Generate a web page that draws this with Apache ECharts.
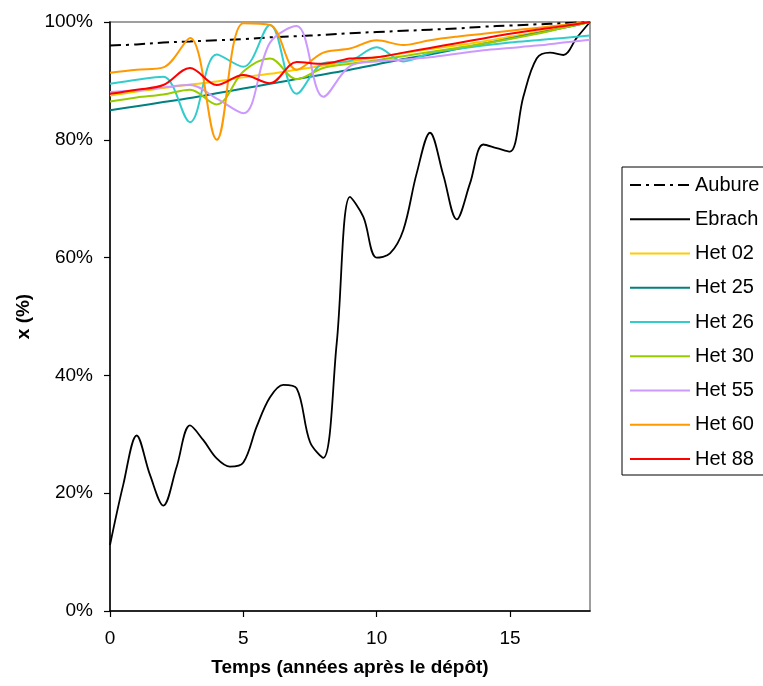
<!DOCTYPE html>
<html><head><meta charset="utf-8">
<script src="https://cdn.jsdelivr.net/npm/echarts@6/dist/echarts.min.js"></script>
<style>html,body{margin:0;padding:0;background:#fff}#c{width:763px;height:686px}</style>
</head><body><div id="c"></div>
<script>
// ---- data ----
const years = [0,1,2,3,4,5,6,7,8,9,10,11,12,13,14,15,16,17,18];
const aubure = [96.0,96.2,96.5,96.7,96.9,97.1,97.4,97.6,97.8,98.1,98.3,98.5,98.7,98.9,99.2,99.4,99.6,99.8,100];
const ebrachT = [0,0.5,1,1.5,2,2.5,3,3.5,4,4.5,5,5.5,6,6.5,7,7.5,8,8.5,9,9.5,10,10.5,11,11.5,12,12.5,13,13.5,14,14.5,15,15.5,16,16.5,17,17.5,18];
const ebrach = [11.2,21.5,29.8,23.1,17.9,24.5,31.5,29.0,25.9,24.5,25.2,31.3,36.3,38.4,37.8,28.7,26.0,45.4,70.3,66.9,60.0,60.7,64.7,74.3,81.2,74.0,66.5,72.6,79.2,78.6,78.0,87.3,93.8,94.8,94.4,97.3,100];
const het02 = [87.5,88.2,88.8,89.4,89.9,90.6,91.2,91.9,92.6,93.3,94.0,94.7,95.4,96.0,96.7,97.5,98.3,99.1,100];
const het25 = [85.0,85.7,86.4,87.1,87.9,88.7,89.5,90.3,91.1,91.9,92.8,93.7,94.5,95.4,96.3,97.2,98.1,99.0,100];
const het26 = [89.5,90.2,90.7,83.0,94.5,92.4,99.5,87.8,93.0,93.4,95.7,93.3,94.7,95.4,96.0,96.5,96.9,97.3,97.7];
const het30 = [86.5,87.2,87.7,88.5,86.0,91.6,93.8,90.3,92.2,92.9,93.5,94.2,94.9,95.6,96.3,97.1,98.0,99.0,100];
const het55 = [88.1,88.4,88.9,89.3,87.0,84.5,96.5,99.3,87.3,92.5,93.3,93.6,94.0,94.6,95.2,95.6,96.0,96.5,97.0];
const het60 = [91.4,91.9,92.3,97.3,80.0,99.8,99.5,91.9,94.8,95.5,96.9,96.1,96.9,97.5,98.0,98.5,99.0,99.5,100];
const het88 = [87.8,88.5,89.3,92.2,89.3,91.0,89.6,93.2,92.9,93.8,94.0,94.8,95.6,96.4,97.2,98.0,98.7,99.3,100];
const xTicks = [0,5,10,15];
const yTicks = [0,20,40,60,80,100];

const names = ['Aubure','Ebrach','Het 02','Het 25','Het 26','Het 30','Het 55','Het 60','Het 88'];
const colors = ['#000000','#000000','#FFCC00','#008080','#33CCCC','#99CC00','#CC99FF','#FF9900','#FF0000'];
const pair = (xs, ys) => ys.map((v, i) => [xs[i], v]);
const seriesData = [
  pair(years, aubure), pair(ebrachT, ebrach), pair(years, het02), pair(years, het25),
  pair(years, het26), pair(years, het30), pair(years, het55), pair(years, het60), pair(years, het88)
];

const FONT = 'Liberation Sans, Arial, sans-serif';
const chart = echarts.init(document.getElementById('c'), null, {renderer: 'canvas'});
chart.setOption({
  animation: false,
  backgroundColor: '#ffffff',
  grid: {left: 110, right: 173, top: 22, bottom: 75, show: true, borderColor: '#808080', borderWidth: 1.5, backgroundColor: 'transparent'},
  legend: {
    orient: 'vertical', left: 622, top: 167,
    padding: [8, 16, 6, 7],
    itemWidth: 60, itemHeight: 20, itemGap: 14.25,
    borderColor: '#000', borderWidth: 1,
    itemStyle: {opacity: 0},
    textStyle: {fontFamily: FONT, fontSize: 20, color: '#000', lineHeight: 20},
    data: names
  },
  xAxis: {
    type: 'value', min: 0, max: 18, interval: 5,
    name: 'Temps (années après le dépôt)', nameLocation: 'middle', nameGap: 47,
    nameTextStyle: {fontFamily: FONT, fontSize: 19, fontWeight: 'bold', color: '#000'},
    axisLine: {show: true, onZero: false, lineStyle: {color: '#000', width: 1.5}},
    axisTick: {show: true, inside: false, length: 6, lineStyle: {color: '#000', width: 1.2}, customValues: xTicks},
    axisLabel: {fontFamily: FONT, fontSize: 19, color: '#000', margin: 18, customValues: xTicks},
    splitLine: {show: false}
  },
  yAxis: {
    type: 'value', min: 0, max: 100, interval: 20,
    name: 'x (%)', nameLocation: 'middle', nameGap: 77, nameRotate: 90,
    nameTextStyle: {fontFamily: FONT, fontSize: 19, fontWeight: 'bold', color: '#000'},
    axisLine: {show: true, onZero: false, lineStyle: {color: '#000', width: 1.5}},
    axisTick: {show: true, inside: false, length: 6, lineStyle: {color: '#000', width: 1.2}, customValues: yTicks},
    axisLabel: {fontFamily: FONT, fontSize: 19, color: '#000', margin: 17, formatter: '{value}%', customValues: yTicks},
    splitLine: {show: false}
  },
  series: names.map((n, i) => ({
    name: n, type: 'line', data: seriesData[i],
    smooth: 0.35, symbol: 'none', showSymbol: false, clip: true,
    z: i + 2,
    color: colors[i],
    itemStyle: {color: colors[i]},
    lineStyle: {color: colors[i], width: i === 1 ? 1.8 : 2, type: i === 0 ? [11, 5, 3, 5] : 'solid'}
  }))
});
</script></body></html>
